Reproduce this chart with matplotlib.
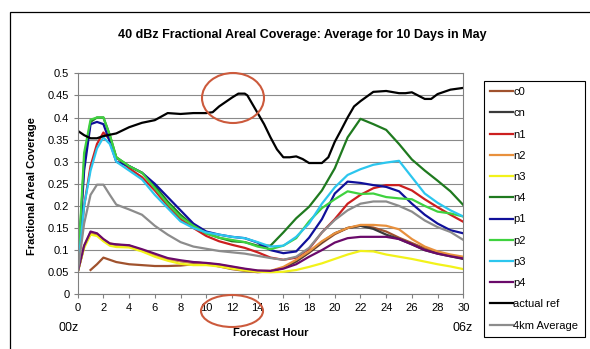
import numpy as np
import matplotlib
matplotlib.use("Agg")
import matplotlib.pyplot as plt
from matplotlib.patches import Ellipse, Rectangle

plt.rcParams['font.family'] = ['Liberation Sans', 'DejaVu Sans']

# forecast hours shared by the model runs
hours = [0, 0.5, 1, 1.5, 2, 2.5, 3, 4, 5, 6, 7, 8, 9, 10, 11, 12, 13, 14, 15,
         16, 17, 18, 19, 20, 21, 22, 23, 24, 25, 26, 27, 28, 29, 30]

nan = np.nan
c0 = [nan, nan, 0.055, 0.068, 0.083, 0.078, 0.073, 0.068, 0.066, 0.064, 0.064, 0.065, 0.068, 0.069,
      0.063, 0.057, 0.053, 0.050, 0.052, 0.060, 0.074, 0.094, 0.116, 0.136, 0.150, 0.155, 0.151,
      0.142, 0.128, 0.116, 0.104, 0.095, 0.088, 0.081]
cn = [0.05, 0.108, 0.138, 0.135, 0.122, 0.114, 0.112, 0.110, 0.100, 0.090, 0.080, 0.075, 0.072, 0.070,
      0.066, 0.061, 0.056, 0.052, 0.052, 0.060, 0.075, 0.095, 0.118, 0.138, 0.150, 0.155, 0.148,
      0.135, 0.125, 0.113, 0.100, 0.092, 0.086, 0.080]
n1 = [0.05, 0.20, 0.29, 0.34, 0.366, 0.35, 0.31, 0.285, 0.265, 0.235, 0.20, 0.17, 0.15, 0.132,
      0.12, 0.112, 0.105, 0.095, 0.083, 0.078, 0.083, 0.103, 0.14, 0.17, 0.205, 0.225, 0.24,
      0.247, 0.247, 0.235, 0.215, 0.197, 0.18, 0.164]
n2 = [0.05, 0.11, 0.14, 0.137, 0.124, 0.115, 0.112, 0.110, 0.100, 0.090, 0.080, 0.075, 0.072, 0.070,
      0.067, 0.062, 0.057, 0.053, 0.053, 0.062, 0.078, 0.097, 0.120, 0.138, 0.150, 0.157, 0.157,
      0.155, 0.147, 0.125, 0.108, 0.097, 0.090, 0.085]
n3 = [0.05, 0.105, 0.135, 0.132, 0.12, 0.11, 0.107, 0.106, 0.097, 0.085, 0.076, 0.069, 0.066, 0.066,
      0.063, 0.058, 0.054, 0.051, 0.050, 0.051, 0.055, 0.062, 0.070, 0.080, 0.090, 0.098, 0.097,
      0.090, 0.085, 0.080, 0.074, 0.068, 0.063, 0.057]
n4 = [0.05, 0.30, 0.39, 0.40, 0.40, 0.36, 0.31, 0.29, 0.275, 0.245, 0.21, 0.18, 0.155, 0.138,
      0.128, 0.12, 0.118, 0.11, 0.11, 0.14, 0.172, 0.198, 0.235, 0.285, 0.355, 0.397, 0.385,
      0.372, 0.34, 0.305, 0.28, 0.257, 0.233, 0.202]
p1 = [0.05, 0.28, 0.385, 0.39, 0.385, 0.345, 0.30, 0.29, 0.275, 0.25, 0.22, 0.19, 0.16, 0.142,
      0.135, 0.13, 0.127, 0.117, 0.10, 0.093, 0.097, 0.128, 0.17, 0.228, 0.255, 0.252, 0.247,
      0.243, 0.233, 0.205, 0.18, 0.16, 0.145, 0.138]
p2 = [0.05, 0.32, 0.395, 0.40, 0.40, 0.36, 0.31, 0.29, 0.275, 0.24, 0.205, 0.175, 0.155, 0.138,
      0.128, 0.123, 0.118, 0.108, 0.102, 0.11, 0.127, 0.165, 0.195, 0.215, 0.233, 0.227, 0.228,
      0.22, 0.217, 0.215, 0.20, 0.187, 0.183, 0.176]
p3 = [0.05, 0.20, 0.28, 0.33, 0.355, 0.34, 0.30, 0.28, 0.26, 0.225, 0.195, 0.165, 0.15, 0.14,
      0.135, 0.13, 0.127, 0.118, 0.108, 0.11, 0.13, 0.16, 0.205, 0.242, 0.27, 0.283, 0.293,
      0.298, 0.302, 0.265, 0.228, 0.207, 0.19, 0.176]
p4 = [0.05, 0.11, 0.142, 0.138, 0.125, 0.115, 0.113, 0.111, 0.102, 0.092, 0.082, 0.077, 0.073, 0.071,
      0.068, 0.063, 0.058, 0.054, 0.053, 0.058, 0.068, 0.085, 0.100, 0.117, 0.127, 0.130, 0.130,
      0.130, 0.125, 0.113, 0.100, 0.092, 0.086, 0.081]
avg4km = [0.05, 0.16, 0.225, 0.248, 0.248, 0.225, 0.203, 0.192, 0.18, 0.155, 0.135, 0.118, 0.108,
          0.103, 0.098, 0.095, 0.092, 0.087, 0.082, 0.078, 0.085, 0.105, 0.14, 0.168, 0.19, 0.205,
          0.21, 0.21, 0.20, 0.187, 0.167, 0.152, 0.141, 0.123]

# observed coverage has its own time axis
ref_hours = [0, 0.5, 1, 1.5, 2, 3, 4, 5, 6, 7, 8, 9, 10, 10.5, 11, 12, 12.5, 13, 13.2, 14, 14.5,
             15, 15.5, 16, 16.5, 17, 17.5, 18, 19, 19.5, 20, 20.5, 21, 21.5, 22, 23, 24, 25,
             25.5, 26, 27, 27.5, 28, 29, 30]
actual_ref = [0.37, 0.36, 0.353, 0.353, 0.358, 0.364, 0.378, 0.388, 0.394, 0.41, 0.408, 0.41, 0.41,
              0.412, 0.425, 0.445, 0.454, 0.454, 0.45, 0.41, 0.385, 0.355, 0.328, 0.31, 0.31,
              0.312, 0.306, 0.297, 0.297, 0.31, 0.345, 0.372, 0.40, 0.425, 0.437, 0.458, 0.46,
              0.455, 0.455, 0.457, 0.442, 0.442, 0.453, 0.463, 0.467]

series = [
    ("c0", c0, "#a0522d"),
    ("cn", cn, "#3a3a3a"),
    ("n1", n1, "#cc1f1f"),
    ("n2", n2, "#e8903c"),
    ("n3", n3, "#f2f21a"),
    ("n4", n4, "#1f7a1f"),
    ("p1", p1, "#10109a"),
    ("p2", p2, "#3fd23f"),
    ("p3", p3, "#2cc6ee"),
    ("p4", p4, "#6a0a6a"),
]

fig = plt.figure(figsize=(5.9, 3.49), dpi=100)
ax = fig.add_axes([77.7 / 590, 1 - 294.3 / 349, (463.3 - 77.7) / 590, (294.3 - 73.3) / 349])

for name, vals, col in series:
    ax.plot(hours, vals, color=col, lw=1.6, label=name)
ax.plot(ref_hours, actual_ref, color="black", lw=1.6, label="actual ref")
ax.plot(hours, avg4km, color="#8c8c8c", lw=1.6, label="4km Average")

ax.set_xlim(0, 30)
ax.set_ylim(0, 0.5)
ax.set_xticks(range(0, 31, 2))
yt = np.arange(0, 0.501, 0.05)
ax.set_yticks(yt)
ax.set_yticklabels([f"{v:g}" for v in np.round(yt, 2)])
ax.tick_params(labelsize=8, length=3, width=0.8, color="#808080", pad=3)
ax.yaxis.grid(True, color="#8a8a8a", lw=0.8)
ax.set_axisbelow(True)
for sp in ax.spines.values():
    sp.set_color("#808080")
    sp.set_linewidth(0.8)

fig.text(302 / 590, 1 - 35 / 349, "40 dBz Fractional Areal Coverage: Average for 10 Days in May",
         ha="center", va="center", fontsize=9, fontweight="bold")
fig.text(32 / 590, 1 - 186 / 349, "Fractional Areal Coverage", rotation=90,
         ha="center", va="center", fontsize=8, fontweight="bold")
fig.text(271 / 590, 1 - 333 / 349, "Forecast Hour", ha="center", va="center",
         fontsize=8, fontweight="bold")
fig.text(69 / 590, 1 - 328 / 349, "00z", ha="center", va="center", fontsize=9)
fig.text(463 / 590, 1 - 328 / 349, "06z", ha="center", va="center", fontsize=9)

leg = fig.legend(loc="upper left", bbox_to_anchor=(484 / 590, 1 - 81 / 349), borderaxespad=0,
                 fontsize=8, frameon=True, fancybox=False, framealpha=1, edgecolor="black",
                 handlelength=2.1, handletextpad=0.0, labelspacing=1.01, borderpad=0.55)
leg.get_frame().set_linewidth(0.8)

# outer chart border
fig.patches.append(Rectangle((10 / 590, -0.1), 1.2, 1.1 - 12 / 349, transform=fig.transFigure,
                             fill=False, ec="black", lw=0.9))

# highlight rings around hour 12
for cx, cy, w, h in [(233, 98, 62, 50), (232, 311, 62, 32)]:
    fig.patches.append(Ellipse((cx / 590, 1 - cy / 349), w / 590, h / 349,
                               transform=fig.transFigure, fill=False, ec="#cc5a3c", lw=1.5))

fig.savefig("out.png", dpi=100)
